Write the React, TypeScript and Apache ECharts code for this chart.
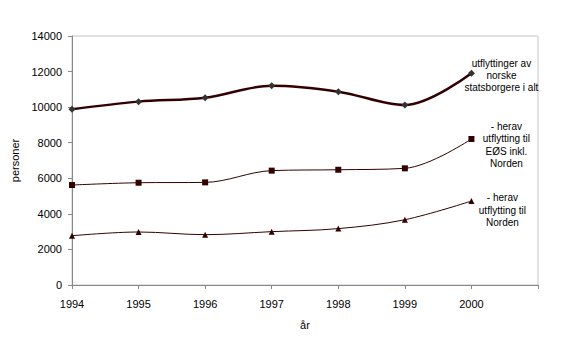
import React, { useEffect, useRef } from "react";
import * as echarts from "echarts";

const years = [1994, 1995, 1996, 1997, 1998, 1999, 2000];
const totalValues = [9880, 10310, 10530, 11200, 10870, 10120, 11900];
const eosValues = [5620, 5750, 5770, 6430, 6480, 6560, 8210];
const nordenValues = [2770, 2980, 2830, 3000, 3170, 3670, 4720];
const yTicks = { min: 0, max: 14000, interval: 2000 };
const seriesNames = [
  "utflyttinger av\nnorske\nstatsborgere i alt",
  "- herav\nutflytting til\nEØS inkl.\nNorden",
  "- herav\nutflytting til\nNorden",
];

const FONT = "'Liberation Sans', Arial, sans-serif";

function buildData(vals: number[], labelText: string, offset: number[]) {
  return vals.map((v, i) => {
    const item: any = { value: [years[i], v] };
    if (i === vals.length - 1) {
      item.label = {
        show: true,
        position: "inside",
        offset,
        formatter: labelText,
        color: "#000",
        fontSize: 10,
        lineHeight: 12.3,
        fontFamily: FONT,
        align: "center",
        verticalAlign: "middle",
      };
    }
    return item;
  });
}

export default function App() {
  const ref = useRef<HTMLDivElement>(null);
  useEffect(() => {
    if (!ref.current) return;
    const chart = echarts.init(ref.current, undefined, { renderer: "svg" });
    chart.setOption({
      animation: false,
      backgroundColor: "#fff",
      grid: {
        left: 72,
        right: 44,
        top: 36,
        bottom: 77,
        show: true,
        borderColor: "#c4c4c4",
        borderWidth: 1,
        backgroundColor: "transparent",
      },
      xAxis: {
        type: "value",
        min: 1994,
        max: 2001,
        interval: 1,
        name: "år",
        nameLocation: "middle",
        nameGap: 34,
        nameTextStyle: { fontSize: 11, color: "#000", fontFamily: FONT },
        axisLine: { lineStyle: { color: "#888", width: 1 } },
        axisTick: { show: true, length: 4, lineStyle: { color: "#888" } },
        splitLine: { show: false },
        axisLabel: {
          fontSize: 11,
          color: "#000",
          fontFamily: FONT,
          margin: 13,
          formatter: (v: number) => (v <= 2000 ? String(v) : ""),
        },
      },
      yAxis: {
        type: "value",
        min: yTicks.min,
        max: yTicks.max,
        interval: yTicks.interval,
        name: "personer",
        nameLocation: "middle",
        nameGap: 48,
        nameRotate: 90,
        nameTextStyle: { fontSize: 11, color: "#000", fontFamily: FONT },
        axisLine: { show: true, lineStyle: { color: "#888", width: 1 } },
        axisTick: { show: true, length: 4, lineStyle: { color: "#888" } },
        splitLine: { show: false },
        axisLabel: {
          fontSize: 11,
          color: "#000",
          fontFamily: FONT,
          margin: 10,
          formatter: (v: number) => String(v),
        },
      },
      series: [
        {
          type: "line",
          name: "total",
          smooth: 0.35,
          data: buildData(totalValues, seriesNames[0], [30, 2]),
          symbol: "diamond",
          symbolSize: 7,
          itemStyle: { color: "#333333" },
          lineStyle: { color: "#330000", width: 2.5 },
        },
        {
          type: "line",
          name: "eos",
          smooth: 0.35,
          data: buildData(eosValues, seriesNames[1], [35, 6]),
          symbol: "rect",
          symbolSize: 6,
          itemStyle: { color: "#330000" },
          lineStyle: { color: "#330000", width: 1 },
        },
        {
          type: "line",
          name: "norden",
          smooth: 0.35,
          data: buildData(nordenValues, seriesNames[2], [31, 9]),
          symbol: "triangle",
          symbolSize: 6,
          itemStyle: { color: "#330000" },
          lineStyle: { color: "#330000", width: 1 },
        },
      ],
    });
    return () => chart.dispose();
  }, []);
  return <div ref={ref} style={{ width: 582, height: 362, position: "absolute", left: 0, top: 0 }} />;
}
